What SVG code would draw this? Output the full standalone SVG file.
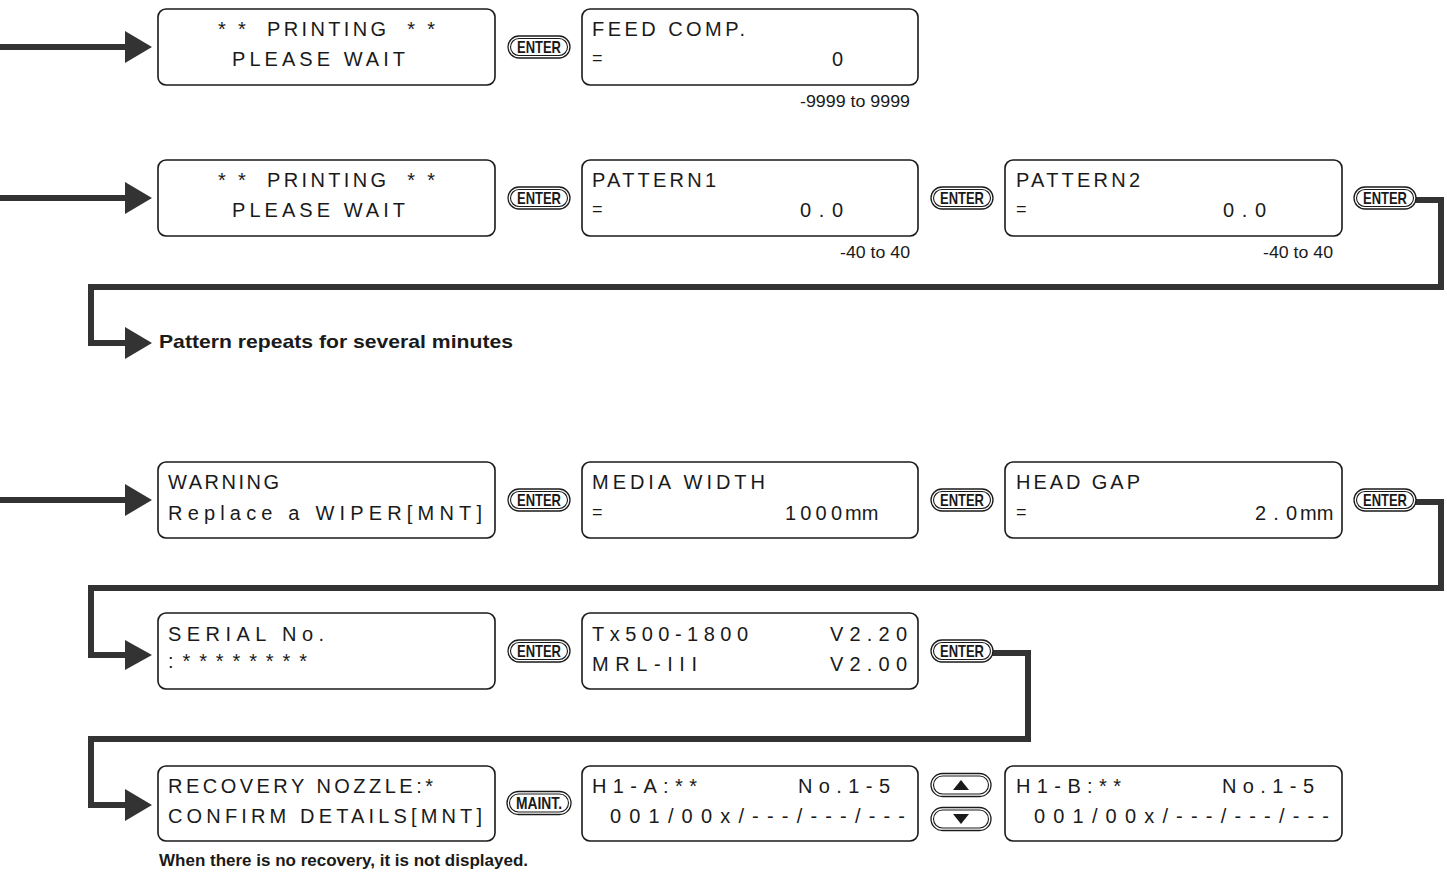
<svg xmlns="http://www.w3.org/2000/svg" xmlns:xlink="http://www.w3.org/1999/xlink" width="1447" height="873" viewBox="0 0 1447 873">
<style>
.box{fill:#fff;stroke:#1a1a1a;stroke-width:1.6}
.lcd{font-family:"Liberation Sans",Arial,sans-serif;font-size:20px;fill:#1a1a1a}
.eq{font-family:"Liberation Sans",Arial,sans-serif;font-size:18px;fill:#1a1a1a}
.rng{font-family:"Liberation Sans Narrow","Liberation Sans",Arial,sans-serif;font-size:17px;fill:#1a1a1a;text-anchor:end}
.note{font-family:"Liberation Sans Narrow","Liberation Sans",Arial,sans-serif;font-weight:bold;fill:#1a1a1a}
.conn{fill:none;stroke:#333;stroke-width:6;stroke-linejoin:miter}
.head{fill:#333}
.bo{fill:#fff;stroke:#1a1a1a;stroke-width:1.3}
.bi{fill:none;stroke:#1a1a1a;stroke-width:1.1}
.bt{font-family:"Liberation Sans Narrow","Liberation Sans",Arial,sans-serif;font-weight:bold;font-size:17px;fill:#1a1a1a;text-anchor:middle}
</style>
<defs>
<g id="enter">
<rect class="bo" x="-31" y="-11" width="62" height="22" rx="11"/>
<rect class="bi" x="-28.5" y="-8.5" width="57" height="17" rx="8.5"/>
<text class="bt" x="0" y="6" textLength="44" lengthAdjust="spacingAndGlyphs">ENTER</text>
</g>
<g id="maint">
<rect class="bo" x="-32" y="-11.5" width="64" height="23" rx="11.5"/>
<rect class="bi" x="-29.5" y="-9" width="59" height="18" rx="9"/>
<text class="bt" x="0" y="6" textLength="46" lengthAdjust="spacingAndGlyphs">MAINT.</text>
</g>
<g id="btnbase">
<rect class="bo" x="-30" y="-11.5" width="60" height="23" rx="11.5"/>
<rect class="bi" x="-27.5" y="-9" width="55" height="18" rx="9"/>
</g>
</defs>

<g id="connectors">
<path class="conn" d="M0,47 H128"/>
<polygon class="head" points="125,31 152,47 125,63"/>
<path class="conn" d="M0,198 H128"/>
<polygon class="head" points="125,182 152,198 125,214"/>
<path class="conn" d="M0,500 H128"/>
<polygon class="head" points="125,484 152,500 125,516"/>
<path class="conn" d="M1414,200 H1441 V287 H91 V343 H128"/>
<polygon class="head" points="125,327 152,343 125,359"/>
<path class="conn" d="M1414,502 H1441 V588 H91 V655 H128"/>
<polygon class="head" points="125,640 152,655 125,670"/>
<path class="conn" d="M991,653 H1028 V739 H91 V805 H128"/>
<polygon class="head" points="125,789 152,805 125,821"/>
</g>

<g id="n-printing1">
<rect class="box" x="158" y="9" width="337" height="76" rx="8"/>
<text class="lcd" x="218" y="36" textLength="217" lengthAdjust="spacing" xml:space="preserve">* *  PRINTING  * *</text>
<text class="lcd" x="232" y="66" textLength="173" lengthAdjust="spacing">PLEASE WAIT</text>
</g>
<g id="b-enter1"><use xlink:href="#enter" x="539" y="47"/></g>
<g id="n-feedcomp">
<rect class="box" x="582" y="9" width="336" height="76" rx="8"/>
<text class="lcd" x="592" y="36" textLength="153" lengthAdjust="spacing">FEED COMP.</text>
<text class="eq" x="592" y="64">=</text>
<text class="lcd" x="832" y="66">0</text>
<text class="rng" x="910" y="107" textLength="110" lengthAdjust="spacingAndGlyphs">-9999 to 9999</text>
</g>

<g id="n-printing2">
<rect class="box" x="158" y="160" width="337" height="76" rx="8"/>
<text class="lcd" x="218" y="187" textLength="217" lengthAdjust="spacing" xml:space="preserve">* *  PRINTING  * *</text>
<text class="lcd" x="232" y="217" textLength="173" lengthAdjust="spacing">PLEASE WAIT</text>
</g>
<g id="b-enter2"><use xlink:href="#enter" x="539" y="198"/></g>
<g id="n-pattern1">
<rect class="box" x="582" y="160" width="336" height="76" rx="8"/>
<text class="lcd" x="592" y="187" textLength="124" lengthAdjust="spacing">PATTERN1</text>
<text class="eq" x="592" y="215">=</text>
<text class="lcd" x="800" y="217" textLength="43" lengthAdjust="spacing">0.0</text>
<text class="rng" x="910" y="258" textLength="70" lengthAdjust="spacingAndGlyphs">-40 to 40</text>
</g>
<g id="b-enter3"><use xlink:href="#enter" x="962" y="198"/></g>
<g id="n-pattern2">
<rect class="box" x="1005" y="160" width="337" height="76" rx="8"/>
<text class="lcd" x="1016" y="187" textLength="124" lengthAdjust="spacing">PATTERN2</text>
<text class="eq" x="1016" y="215">=</text>
<text class="lcd" x="1223" y="217" textLength="43" lengthAdjust="spacing">0.0</text>
<text class="rng" x="1333" y="258" textLength="70" lengthAdjust="spacingAndGlyphs">-40 to 40</text>
</g>
<g id="b-enter4"><use xlink:href="#enter" x="1385" y="198"/></g>
<g id="n-repeat">
<text class="note" x="159" y="348" font-size="19" textLength="354" lengthAdjust="spacingAndGlyphs">Pattern repeats for several minutes</text>
</g>

<g id="n-warning">
<rect class="box" x="158" y="462" width="337" height="76" rx="8"/>
<text class="lcd" x="168" y="489" textLength="111" lengthAdjust="spacing">WARNING</text>
<text class="lcd" x="168" y="520" textLength="314" lengthAdjust="spacing">Replace a WIPER[MNT]</text>
</g>
<g id="b-enter5"><use xlink:href="#enter" x="539" y="500"/></g>
<g id="n-mediawidth">
<rect class="box" x="582" y="462" width="336" height="76" rx="8"/>
<text class="lcd" x="592" y="489" textLength="173" lengthAdjust="spacing">MEDIA WIDTH</text>
<text class="eq" x="592" y="518">=</text>
<text class="lcd" x="785" y="520" textLength="57" lengthAdjust="spacing">1000</text>
<text class="lcd" x="845" y="520">mm</text>
</g>
<g id="b-enter6"><use xlink:href="#enter" x="962" y="500"/></g>
<g id="n-headgap">
<rect class="box" x="1005" y="462" width="337" height="76" rx="8"/>
<text class="lcd" x="1016" y="489" textLength="124" lengthAdjust="spacing">HEAD GAP</text>
<text class="eq" x="1016" y="518">=</text>
<text class="lcd" x="1255" y="520" textLength="42" lengthAdjust="spacing">2.0</text>
<text class="lcd" x="1300" y="520">mm</text>
</g>
<g id="b-enter7"><use xlink:href="#enter" x="1385" y="500"/></g>

<g id="n-serial">
<rect class="box" x="158" y="613" width="337" height="76" rx="8"/>
<text class="lcd" x="168" y="641" textLength="156" lengthAdjust="spacing">SERIAL No.</text>
<text class="lcd" x="168" y="668" font-size="16" textLength="139" lengthAdjust="spacing">:********</text>
</g>
<g id="b-enter8"><use xlink:href="#enter" x="539" y="651"/></g>
<g id="n-version">
<rect class="box" x="582" y="613" width="336" height="76" rx="8"/>
<text class="lcd" x="592" y="641" textLength="156" lengthAdjust="spacing">Tx500-1800</text>
<text class="lcd" x="830" y="641" textLength="77" lengthAdjust="spacing">V2.20</text>
<text class="lcd" x="592" y="671" textLength="105" lengthAdjust="spacing">MRL-III</text>
<text class="lcd" x="830" y="671" textLength="77" lengthAdjust="spacing">V2.00</text>
</g>
<g id="b-enter9"><use xlink:href="#enter" x="962" y="651"/></g>

<g id="n-recovery">
<rect class="box" x="158" y="766" width="337" height="75" rx="8"/>
<text class="lcd" x="168" y="793" textLength="265" lengthAdjust="spacing">RECOVERY NOZZLE:*</text>
<text class="lcd" x="168" y="823" textLength="314" lengthAdjust="spacing">CONFIRM DETAILS[MNT]</text>
<text class="note" x="159" y="866" font-size="16" textLength="369" lengthAdjust="spacingAndGlyphs">When there is no recovery, it is not displayed.</text>
</g>
<g id="b-maint"><use xlink:href="#maint" x="539" y="803"/></g>
<g id="n-h1a">
<rect class="box" x="582" y="766" width="336" height="75" rx="8"/>
<text class="lcd" x="592" y="793" textLength="105" lengthAdjust="spacing">H1-A:**</text>
<text class="lcd" x="798" y="793" textLength="92" lengthAdjust="spacing">No.1-5</text>
<text class="lcd" x="610" y="823" textLength="295" lengthAdjust="spacing">001/00x/---/---/---</text>
</g>
<g id="b-updown">
<use xlink:href="#btnbase" x="961" y="785"/>
<polygon points="953,790 961,780 969,790" fill="#1a1a1a"/>
<use xlink:href="#btnbase" x="961" y="819"/>
<polygon points="953,814 969,814 961,824" fill="#1a1a1a"/>
</g>
<g id="n-h1b">
<rect class="box" x="1005" y="766" width="337" height="75" rx="8"/>
<text class="lcd" x="1016" y="793" textLength="105" lengthAdjust="spacing">H1-B:**</text>
<text class="lcd" x="1222" y="793" textLength="92" lengthAdjust="spacing">No.1-5</text>
<text class="lcd" x="1034" y="823" textLength="295" lengthAdjust="spacing">001/00x/---/---/---</text>
</g>
</svg>
